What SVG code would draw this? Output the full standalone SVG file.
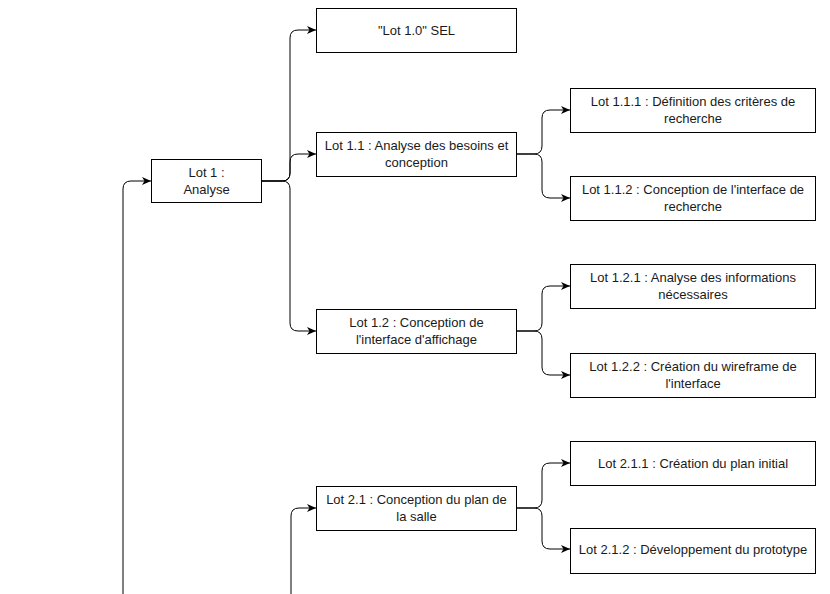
<svg xmlns="http://www.w3.org/2000/svg" width="830" height="594" viewBox="0 0 830 594">
<style>
.box{fill:#fff;stroke:#000;stroke-width:1}
.t{font-family:"Liberation Sans",Arial,sans-serif;font-size:13px;fill:#1a1a1a;text-anchor:middle}
.e{fill:none;stroke:#000;stroke-width:1}
</style>
<defs>
<marker id="arr" markerUnits="userSpaceOnUse" markerWidth="10" markerHeight="9" refX="9" refY="4" orient="auto">
<path d="M0,0 L9,4 L0,8 L2.5,4 z" fill="#000"/>
</marker>
</defs>
<rect width="830" height="594" fill="#fff"/>
<g id="connectors">
<path class="e" marker-end="url(#arr)" d="M123,594 V189 Q123,181 131,181 H151"/>
<path class="e" marker-end="url(#arr)" d="M261,181 H282 Q290,181 290,173 V38 Q290,30 298,30 H316"/>
<path class="e" marker-end="url(#arr)" d="M261,181 H282 Q290,181 290,173 V162 Q290,154 298,154 H316"/>
<path class="e" marker-end="url(#arr)" d="M261,181 H282 Q290,181 290,189 V323 Q290,331 298,331 H316"/>
<path class="e" marker-end="url(#arr)" d="M291,594 V516 Q291,508 299,508 H316"/>
<path class="e" marker-end="url(#arr)" d="M516,154 H534 Q542,154 542,146 V118 Q542,110 550,110 H570"/>
<path class="e" marker-end="url(#arr)" d="M516,154 H534 Q542,154 542,162 V190 Q542,198 550,198 H570"/>
<path class="e" marker-end="url(#arr)" d="M516,331 H534 Q542,331 542,323 V294 Q542,286 550,286 H570"/>
<path class="e" marker-end="url(#arr)" d="M516,331 H534 Q542,331 542,339 V367 Q542,375 550,375 H570"/>
<path class="e" marker-end="url(#arr)" d="M516,508 H534 Q542,508 542,500 V471 Q542,463 550,463 H570"/>
<path class="e" marker-end="url(#arr)" d="M516,508 H534 Q542,508 542,516 V541 Q542,549 550,549 H570"/>
</g>
<g id="lot1">
<rect class="box" x="151.5" y="159.5" width="110" height="43"/>
<text class="t" x="206.5" y="177">Lot 1 :</text>
<text class="t" x="206.5" y="194">Analyse</text>
</g>
<g id="lot10">
<rect class="box" x="316.5" y="8.5" width="200" height="44"/>
<text class="t" x="416.5" y="35">"Lot 1.0" SEL</text>
</g>
<g id="lot11">
<rect class="box" x="316.5" y="132.5" width="200" height="44"/>
<text class="t" x="416.5" y="150">Lot 1.1 : Analyse des besoins et</text>
<text class="t" x="416.5" y="167">conception</text>
</g>
<g id="lot111">
<rect class="box" x="570.5" y="88.5" width="245" height="44"/>
<text class="t" x="693" y="106">Lot 1.1.1 : Définition des critères de</text>
<text class="t" x="693" y="123">recherche</text>
</g>
<g id="lot112">
<rect class="box" x="570.5" y="176.5" width="245" height="44"/>
<text class="t" x="693" y="194">Lot 1.1.2 : Conception de l'interface de</text>
<text class="t" x="693" y="211">recherche</text>
</g>
<g id="lot12">
<rect class="box" x="316.5" y="309.5" width="200" height="44"/>
<text class="t" x="416.5" y="327">Lot 1.2 : Conception de</text>
<text class="t" x="416.5" y="344">l'interface d'affichage</text>
</g>
<g id="lot121">
<rect class="box" x="570.5" y="264.5" width="245" height="44"/>
<text class="t" x="693" y="282">Lot 1.2.1 : Analyse des informations</text>
<text class="t" x="693" y="299">nécessaires</text>
</g>
<g id="lot122">
<rect class="box" x="570.5" y="353.5" width="245" height="44"/>
<text class="t" x="693" y="371">Lot 1.2.2 : Création du wireframe de</text>
<text class="t" x="693" y="388">l'interface</text>
</g>
<g id="lot21">
<rect class="box" x="316.5" y="486.5" width="200" height="44"/>
<text class="t" x="416.5" y="504">Lot 2.1 : Conception du plan de</text>
<text class="t" x="416.5" y="521">la salle</text>
</g>
<g id="lot211">
<rect class="box" x="570.5" y="441.5" width="245" height="44"/>
<text class="t" x="693" y="468">Lot 2.1.1 : Création du plan initial</text>
</g>
<g id="lot212">
<rect class="box" x="570.5" y="528.5" width="245" height="45"/>
<text class="t" x="693" y="554">Lot 2.1.2 : Développement du prototype</text>
</g>
</svg>
